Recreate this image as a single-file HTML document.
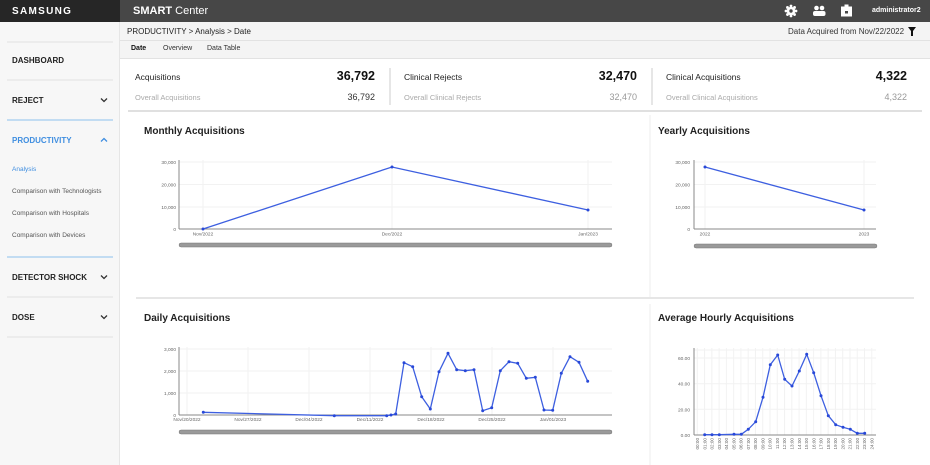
<!DOCTYPE html>
<html><head><meta charset="utf-8"><style>
*{margin:0;padding:0;box-sizing:border-box}
body{width:930px;height:465px;overflow:hidden;background:#fff;font-family:"Liberation Sans",sans-serif;position:relative;color:#222}
.a{position:absolute;white-space:nowrap}
.sb{font-size:8px;font-weight:bold;color:#222}
.si{font-size:6.5px;color:#555}
.t{font-size:10px;font-weight:bold;color:#222}
.kl{font-size:8.5px;color:#222}
.kv{font-size:12.5px;font-weight:bold;color:#111;text-align:right}
.ks{font-size:7.5px;color:#aaa}
.kr{font-size:9px;color:#333;text-align:right}
</style></head><body>
<div class="a" style="left:0;top:0;width:120px;height:22px;background:#262626"></div>
<div class="a" style="left:120px;top:0;width:810px;height:22px;background:#474747"></div>
<div class="a" style="left:12px;top:6px;font-size:10px;font-weight:bold;color:#fff;letter-spacing:1.3px">SAMSUNG</div>
<div class="a" style="left:133px;top:5px;font-size:11px;color:#fff"><b>SMART</b> Center</div>
<div class="a" style="left:872px;top:7px;font-size:7px;font-weight:bold;color:#fff">administrator2</div>
<div class="a" style="left:0;top:22px;width:120px;height:443px;background:#f7f7f7;border-right:1px solid #e6e6e6"></div>
<div class="a" style="left:120px;top:22px;width:810px;height:37px;background:#f4f4f4"></div>
<div class="a" style="left:120px;top:40px;width:810px;height:1px;background:#e2e2e2"></div>
<div class="a" style="left:120px;top:58px;width:810px;height:1px;background:#e2e2e2"></div>
<div class="a" style="left:127px;top:27px;font-size:8px;color:#222">PRODUCTIVITY &gt; Analysis &gt; Date</div>
<div class="a" style="left:788px;top:27px;font-size:8px;color:#333">Data Acquired from Nov/22/2022</div>
<div class="a" style="left:131px;top:45px;font-size:7px;color:#111;font-weight:bold">Date</div>
<div class="a" style="left:163px;top:45px;font-size:7px;color:#333">Overview</div>
<div class="a" style="left:207px;top:45px;font-size:7px;color:#333">Data Table</div>

<div class="a sb" style="left:12px;top:56px">DASHBOARD</div>
<div class="a sb" style="left:12px;top:96px">REJECT</div>
<div class="a sb" style="left:12px;top:136px;color:#3f8ee0">PRODUCTIVITY</div>
<div class="a si" style="left:12px;top:166px;color:#3f8ee0">Analysis</div>
<div class="a si" style="left:12px;top:188px">Comparison with Technologists</div>
<div class="a si" style="left:12px;top:210px">Comparison with Hospitals</div>
<div class="a si" style="left:12px;top:232px">Comparison with Devices</div>
<div class="a sb" style="left:12px;top:273px">DETECTOR SHOCK</div>
<div class="a sb" style="left:12px;top:313px">DOSE</div>

<div class="a kl" style="left:135px;top:72px">Acquisitions</div>
<div class="a kv" style="left:275px;top:69px;width:100px">36,792</div>
<div class="a ks" style="left:135px;top:93px">Overall Acquisitions</div>
<div class="a kr" style="left:275px;top:92px;width:100px">36,792</div>
<div class="a kl" style="left:404px;top:72px">Clinical Rejects</div>
<div class="a kv" style="left:537px;top:69px;width:100px">32,470</div>
<div class="a ks" style="left:404px;top:93px">Overall Clinical Rejects</div>
<div class="a kr" style="left:537px;top:92px;width:100px;color:#999">32,470</div>
<div class="a kl" style="left:666px;top:72px">Clinical Acquisitions</div>
<div class="a kv" style="left:807px;top:69px;width:100px">4,322</div>
<div class="a ks" style="left:666px;top:93px">Overall Clinical Acquisitions</div>
<div class="a kr" style="left:807px;top:92px;width:100px;color:#999">4,322</div>

<div class="a t" style="left:144px;top:126px">Monthly Acquisitions</div>
<div class="a t" style="left:658px;top:126px">Yearly Acquisitions</div>
<div class="a t" style="left:144px;top:313px">Daily Acquisitions</div>
<div class="a t" style="left:658px;top:313px">Average Hourly Acquisitions</div>

<svg id="s" class="a" style="left:0;top:0" width="930" height="465" font-family="Liberation Sans, sans-serif"></svg>
<script>
var s='';
function L(x1,y1,x2,y2,c,w){s+='<line x1="'+x1+'" y1="'+y1+'" x2="'+x2+'" y2="'+y2+'" stroke="'+c+'" stroke-width="'+(w||1)+'"/>';}
function T(x,y,t,a,fs,extra){s+='<text x="'+x+'" y="'+y+'" font-size="'+(fs||5)+'" fill="#666" text-anchor="'+(a||'start')+'" '+(extra||'')+'>'+t+'</text>';}
function P(pts){s+='<polyline points="'+pts.map(p=>p.join(',')).join(' ')+'" fill="none" stroke="#3d5fe0" stroke-width="1.3"/>';pts.forEach(p=>{s+='<circle cx="'+p[0]+'" cy="'+p[1]+'" r="1.5" fill="#2848d8"/>';});}
function SB(x1,x2,y){s+='<rect x="'+x1+'" y="'+(y-2)+'" width="'+(x2-x1)+'" height="4" rx="2" fill="#9a9a9a" stroke="#777" stroke-width="0.5"/>';}
[[7,42,113,42,'#e2e2e2'],[7,80,113,80,'#e2e2e2'],[7,120,113,120,'#8ec0ee'],[7,257,113,257,'#8ec0ee'],[7,297,113,297,'#e2e2e2'],[7,337,113,337,'#e2e2e2']].forEach(a=>L(...a));
L(390,68,390,105,'#ccc');L(652,68,652,105,'#ccc');
L(128,111,922,111,'#d6d6d6',1.5);
L(650,115,650,297,'#eee');L(136,298,914,298,'#d6d6d6',1.2);L(650,304,650,465,'#eee');
function chev(x,y,up){s+='<polyline points="'+(x-3)+','+(y+(up?1.5:-1.5))+' '+x+','+(y+(up?-1.5:1.5))+' '+(x+3)+','+(y+(up?1.5:-1.5))+'" fill="none" stroke="'+(up?'#3f8ee0':'#333')+'" stroke-width="1.3"/>';}
chev(104,100);chev(104,140,1);chev(104,277);chev(104,317);
// header icons
s+='<circle cx="791" cy="11" r="4.3" fill="#fff"/>';
for(var k=0;k<8;k++){var an=k*Math.PI/4;s+='<circle cx="'+(791+5*Math.cos(an)).toFixed(2)+'" cy="'+(11+5*Math.sin(an)).toFixed(2)+'" r="1.4" fill="#fff"/>';}
s+='<circle cx="791" cy="11" r="1.7" fill="#474747"/>';
s+='<circle cx="816.5" cy="8" r="2.3" fill="#fff"/><circle cx="822" cy="8" r="2.3" fill="#fff"/><rect x="813" y="11" width="12.5" height="5" rx="2" fill="#fff"/>';
s+='<rect x="841" y="6.5" width="11" height="10" fill="#fff"/><rect x="844.5" y="4.5" width="4" height="3" fill="#fff"/><rect x="845" y="11" width="3" height="2.5" fill="#474747"/>';
s+='<polygon points="908,27 916,27 913,31 913,36 911,36 911,31" fill="#111"/>';
function grid(x0,x1,ys,xs,yb){ys.forEach(y=>L(x0,y,x1,y,'#f2f2f2'));xs.forEach(x=>L(x,ys[ys.length-1]-2,x,yb,'#f2f2f2'));L(x0,ys[ys.length-1]-2,x0,yb,'#888',1);L(x0,yb,x1,yb,'#888',1);}
grid(179,612,[207,184.5,162],[203,392,588],229);
[['30,000',162],['20,000',184.5],['10,000',207],['0',229]].forEach(a=>T(176,a[1]+2,a[0],'end',4.8));
T(203,235.5,'Nov/2022','middle',4.8);T(392,235.5,'Dec/2022','middle',4.8);T(588,235.5,'Jan/2023','middle',4.8);
P([[203,229],[392,167],[588,210]]);SB(179,612,245);
grid(694,876,[207,184.5,162],[705,864],229);
[['30,000',162],['20,000',184.5],['10,000',207],['0',229]].forEach(a=>T(690,a[1]+2,a[0],'end',4.8));
T(705,235.5,'2022','middle',4.8);T(864,235.5,'2023','middle',4.8);
P([[705,167],[864,210]]);SB(694,877,246);
var dx=[187,248,309,370,431,492,553];
grid(179,612,[393,371,349],dx,415);
[['3,000',349],['2,000',371],['1,000',393],['0',415]].forEach(a=>T(176,a[1]+2,a[0],'end',4.8));
['Nov/20/2022','Nov/27/2022','Dec/04/2022','Dec/11/2022','Dec/18/2022','Dec/25/2022','Jan/01/2023'].forEach((t,i)=>T(dx[i],421,t,'middle',4.8));
var dz=[[220,247],[613,257],[770,257],[783,255],[797,252],[822,98],[848,110],[875,200],[901,237],[927,125],[954,70],[980,119],[1006,122],[1032,119],[1058,242],[1085,233],[1111,122],[1137,95],[1163,100],[1189,145],[1216,142],[1242,240],[1268,241],[1294,130],[1320,80],[1347,97],[1373,154]];
P(dz.map(p=>[+(p[0]/3+130).toFixed(1),+(p[1]/3+330).toFixed(1)]));SB(179,612,432);
var hx=[];for(var h=0;h<25;h++)hx.push(697.3+7.27*h);
grid(694,876,[409.3,383.7,358,350],hx,435);
[['60.00',358],['40.00',383.7],['20.00',409.3],['0.00',435]].forEach(a=>T(690,a[1]+2,a[0],'end',4.8));
hx.forEach((x,h)=>T(x+1.7,438,(h<10?'0':'')+h+':00','end',4.6,'transform="rotate(-90 '+(x+1.7)+' 438)"'));
var hz=[[134,314],[156,314],[178,314],[222,313],[244,313],[265,298],[287,275],[309,202],[331,104],[353,75],[374,148],[396,168],[418,123],[440,73],[461,128],[483,197],[505,257],[527,284],[549,292],[571,298],[592,310],[614,310]];
P(hz.map(p=>[+(p[0]/3+660).toFixed(1),+(p[1]/3+330).toFixed(1)]));
document.getElementById('s').innerHTML=s;
</script>
</body></html>
